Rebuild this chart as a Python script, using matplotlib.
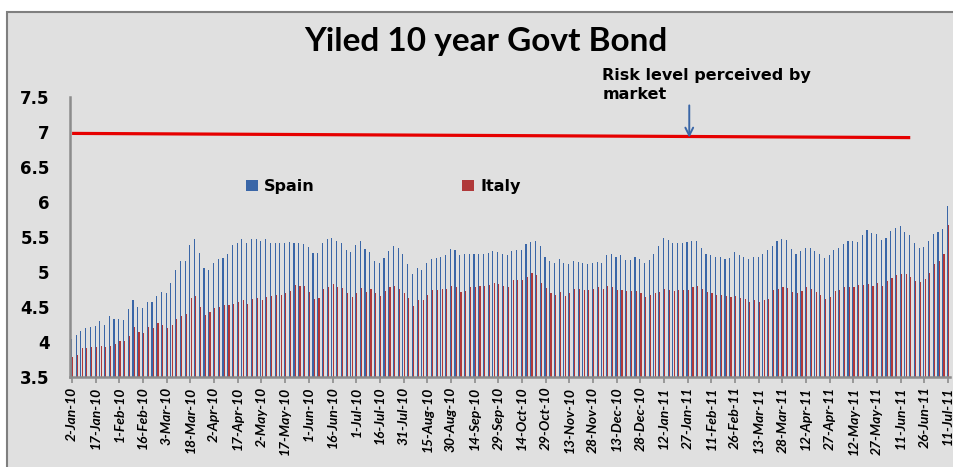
import matplotlib
matplotlib.use("Agg")
import matplotlib.pyplot as plt
from matplotlib.patches import Rectangle

# yields, one bar every 3 days starting 2-Jan-10
start_label = "2-Jan-10"
step_days = 3

spain = [4.05, 4.10, 4.16, 4.20, 4.21, 4.23, 4.30, 4.24, 4.37, 4.33,
         4.33, 4.31, 4.47, 4.60, 4.50, 4.49, 4.57, 4.57, 4.66, 4.71,
         4.70, 4.84, 5.03, 5.16, 5.16, 5.39, 5.47, 5.27, 5.06, 5.03,
         5.13, 5.19, 5.20, 5.26, 5.39, 5.41, 5.47, 5.41, 5.47, 5.47,
         5.44, 5.47, 5.41, 5.41, 5.41, 5.41, 5.43, 5.41, 5.41, 5.40,
         5.36, 5.27, 5.27, 5.41, 5.47, 5.49, 5.44, 5.41, 5.31, 5.29,
         5.39, 5.44, 5.33, 5.29, 5.16, 5.13, 5.20, 5.30, 5.37, 5.34,
         5.26, 5.11, 4.97, 5.06, 5.03, 5.13, 5.19, 5.20, 5.21, 5.24,
         5.33, 5.31, 5.24, 5.26, 5.26, 5.26, 5.26, 5.26, 5.27, 5.30,
         5.29, 5.26, 5.24, 5.30, 5.31, 5.31, 5.40, 5.43, 5.44, 5.37,
         5.21, 5.16, 5.13, 5.19, 5.13, 5.11, 5.16, 5.14, 5.13, 5.11,
         5.13, 5.14, 5.13, 5.24, 5.26, 5.21, 5.24, 5.17, 5.17, 5.21,
         5.19, 5.13, 5.17, 5.26, 5.37, 5.49, 5.46, 5.41, 5.41, 5.41,
         5.43, 5.44, 5.44, 5.34, 5.26, 5.24, 5.21, 5.21, 5.19, 5.20,
         5.29, 5.24, 5.21, 5.19, 5.21, 5.21, 5.26, 5.31, 5.37, 5.44,
         5.47, 5.46, 5.33, 5.26, 5.30, 5.34, 5.34, 5.30, 5.26, 5.20,
         5.24, 5.31, 5.34, 5.40, 5.44, 5.44, 5.43, 5.53, 5.60, 5.56,
         5.54, 5.46, 5.49, 5.59, 5.63, 5.66, 5.57, 5.53, 5.41, 5.34,
         5.36, 5.44, 5.54, 5.57, 5.61, 5.94]

italy = [3.79, 3.81, 3.91, 3.91, 3.93, 3.93, 3.94, 3.93, 3.94, 3.97,
         4.02, 4.01, 4.09, 4.21, 4.14, 4.13, 4.21, 4.20, 4.27, 4.24,
         4.20, 4.24, 4.33, 4.37, 4.40, 4.63, 4.66, 4.50, 4.39, 4.43,
         4.49, 4.50, 4.53, 4.53, 4.54, 4.57, 4.60, 4.54, 4.61, 4.63,
         4.60, 4.64, 4.66, 4.67, 4.67, 4.70, 4.73, 4.81, 4.80, 4.80,
         4.71, 4.61, 4.63, 4.76, 4.79, 4.83, 4.79, 4.77, 4.70, 4.64,
         4.70, 4.77, 4.71, 4.76, 4.70, 4.66, 4.73, 4.79, 4.80, 4.76,
         4.70, 4.63, 4.51, 4.60, 4.60, 4.67, 4.74, 4.74, 4.76, 4.76,
         4.80, 4.79, 4.71, 4.73, 4.79, 4.79, 4.80, 4.80, 4.81, 4.84,
         4.83, 4.80, 4.79, 4.89, 4.89, 4.89, 4.93, 4.99, 4.96, 4.84,
         4.77, 4.70, 4.67, 4.71, 4.66, 4.70, 4.76, 4.76, 4.74, 4.74,
         4.76, 4.79, 4.76, 4.80, 4.79, 4.74, 4.74, 4.73, 4.73, 4.73,
         4.70, 4.64, 4.67, 4.70, 4.71, 4.76, 4.74, 4.73, 4.74, 4.74,
         4.74, 4.79, 4.80, 4.76, 4.71, 4.70, 4.67, 4.67, 4.66, 4.64,
         4.66, 4.63, 4.61, 4.57, 4.60, 4.57, 4.60, 4.61, 4.74, 4.76,
         4.79, 4.77, 4.71, 4.70, 4.73, 4.79, 4.76, 4.71, 4.67, 4.61,
         4.64, 4.73, 4.74, 4.79, 4.79, 4.79, 4.81, 4.81, 4.83, 4.80,
         4.84, 4.80, 4.87, 4.91, 4.96, 4.97, 4.97, 4.93, 4.87, 4.86,
         4.90, 4.99, 5.11, 5.16, 5.26, 5.67]

tick_labels = ["2-Jan-10", "17-Jan-10", "1-Feb-10", "16-Feb-10", "3-Mar-10",
               "18-Mar-10", "2-Apr-10", "17-Apr-10", "2-May-10", "17-May-10",
               "1-Jun-10", "16-Jun-10", "1-Jul-10", "16-Jul-10", "31-Jul-10",
               "15-Aug-10", "30-Aug-10", "14-Sep-10", "29-Sep-10", "14-Oct-10",
               "29-Oct-10", "13-Nov-10", "28-Nov-10", "13-Dec-10", "28-Dec-10",
               "12-Jan-11", "27-Jan-11", "11-Feb-11", "26-Feb-11", "13-Mar-11",
               "28-Mar-11", "12-Apr-11", "27-Apr-11", "12-May-11", "27-May-11",
               "11-Jun-11", "26-Jun-11", "11-Jul-11"]
tick_step_days = 15

# hand drawn "risk" line and arrow (day offset, yield)
risk_line_days = [0, 531]
risk_line_vals = [6.98, 6.92]
arrow_day = 391
arrow_from = 7.38
arrow_to = 6.92

blue = "#3A66A7"
red = "#B0393A"
bg = "#E0E0E0"

days = [i * step_days for i in range(len(spain))]
tick_days = [i * tick_step_days for i in range(len(tick_labels))]

fig = plt.figure(figsize=(9.54, 4.67), dpi=100)
fig.patch.set_facecolor("white")
# chart area with border
fig.patches.append(Rectangle((7 / 954, -0.05), 1.0, 1 - 12 / 467 + 0.05,
                             transform=fig.transFigure, facecolor=bg,
                             edgecolor="#7F7F7F", linewidth=1.5, zorder=-10))

ax = fig.add_axes([70.5 / 954, 1 - 377 / 467, 880 / 954, 280 / 467])
ax.set_facecolor(bg)

w = 0.72
ax.bar([d - 0.4 for d in days], spain, width=w, color=blue, label="Spain",
       linewidth=0)
ax.bar([d + 0.4 for d in days], italy, width=w, color=red, label="Italy",
       linewidth=0)

ax.plot(risk_line_days, risk_line_vals, color="#E60000", linewidth=2.3,
        solid_capstyle="butt", zorder=5)
ax.annotate("", xy=(arrow_day, arrow_to), xytext=(arrow_day, arrow_from),
            arrowprops=dict(arrowstyle="->", color=blue, lw=1.4,
                            mutation_scale=14, shrinkA=0, shrinkB=0),
            annotation_clip=False, zorder=6)
ax.text(336, 7.67, "Risk level perceived by\nmarket", ha="left", va="center",
        fontsize=11.5, fontweight="bold", family="DejaVu Sans",
        linespacing=1.35, clip_on=False)

ax.set_ylim(3.5, 7.5)
ax.set_xlim(-1.0, days[-1] + 1.5)
ax.set_yticks([3.5 + 0.5 * i for i in range(9)])
ax.set_yticklabels(["%g" % (3.5 + 0.5 * i) for i in range(9)],
                   fontsize=12, fontweight="bold", family="DejaVu Sans")
ax.tick_params(axis="y", length=0, pad=15)
ax.set_xticks(tick_days)
ax.set_xticklabels(tick_labels, rotation=90, fontsize=10, family="Lato",
                   style="italic", fontweight="bold")
ax.tick_params(axis="x", length=4, width=1.2, color="#8C8C8C", direction="out",
               pad=3)

for s in ["top", "right"]:
    ax.spines[s].set_visible(False)
for s in ["left", "bottom"]:
    ax.spines[s].set_color("#8C8C8C")
    ax.spines[s].set_linewidth(1.8)

ax.legend(loc="center left", bbox_to_anchor=(0.183, 0.68), ncol=2,
          frameon=False, handlelength=0.75, handleheight=0.75,
          columnspacing=9.2, handletextpad=0.4,
          prop={"family": "DejaVu Sans", "weight": "bold", "size": 11.5})

fig.text(486 / 954, 1 - 41 / 467, "Yiled 10 year Govt Bond", ha="center",
         va="center", fontsize=24, fontweight="bold", family="Lato")

fig.savefig("out.png", dpi=100, facecolor=fig.get_facecolor())
